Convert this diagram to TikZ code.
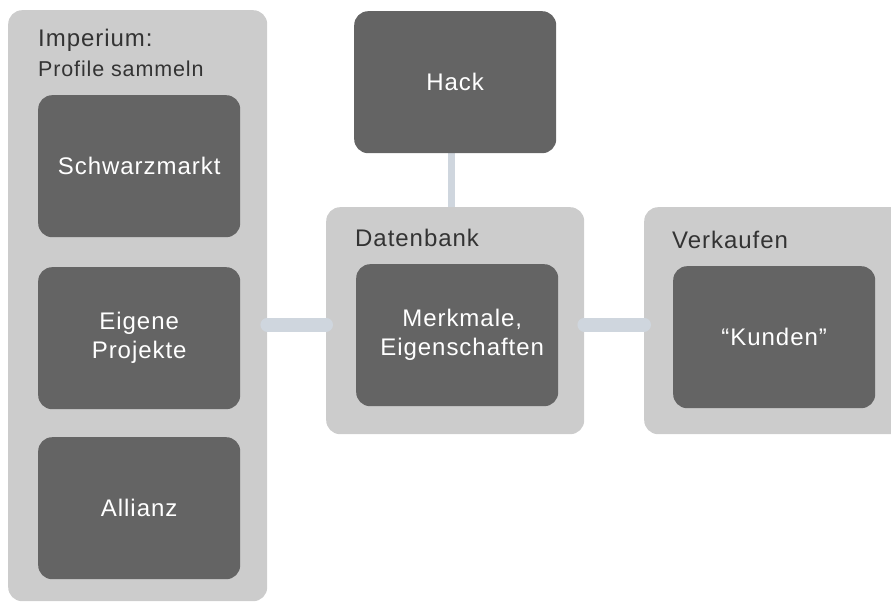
\documentclass[tikz,border=0pt]{standalone}
\usepackage{fontspec}
\setmainfont{Liberation Sans}[LetterSpace=4]
\definecolor{panelgray}{HTML}{CCCCCC}
\definecolor{boxgray}{HTML}{646464}
\definecolor{conncol}{HTML}{CFD6DE}
\definecolor{titlecol}{HTML}{333333}
\begin{document}
\begin{tikzpicture}[x=1pt,y=-1pt,
  panel/.style={fill=panelgray, draw=none, rounded corners=14pt, inner sep=0pt, anchor=north west},
  darkbox/.style={fill=boxgray, draw=none, rounded corners=14pt, inner sep=0pt, anchor=north west,
    minimum width=202pt, minimum height=142pt},
  boxtext/.style={text=white, font=\fontsize{24}{29}\selectfont, align=center},
  title/.style={text=titlecol, font=\fontsize{24}{28}\selectfont, anchor=base west, inner sep=0pt},
  subtitle/.style={text=titlecol, font=\fontsize{21.5}{26}\selectfont, anchor=base west, inner sep=0pt},
  conn/.style={draw=conncol, line width=14pt, line cap=round},
  vconn/.style={draw=conncol, line width=7pt}]
\useasboundingbox (0,0) rectangle (891,602);
% panels
\node[panel, minimum width=259pt, minimum height=591pt] (imp) at (8,10) {};
\node[panel, minimum width=258pt, minimum height=227pt] (db) at (326,207) {};
\node[panel, minimum width=262pt, minimum height=227pt] (vk) at (644,207) {};
% vertical connector
\draw[vconn] (451,153) coordinate (hb) -- (451,207) coordinate (dt);
% dark boxes
\node[darkbox] (hack) at (354,11) {};
\node[boxtext] at (hack.center) {Hack};
\node[darkbox] (sm) at (38,95) {};
\node[boxtext] at (sm.center) {Schwarzmarkt};
\node[darkbox] (ep) at (38,267) {};
\node[boxtext] at (ep.center) {Eigene\\Projekte};
\node[darkbox] (al) at (38,437) {};
\node[boxtext] at (al.center) {Allianz};
\node[darkbox] (mk) at (356,264) {};
\node[boxtext] at ([xshift=5pt]mk.center) {Merkmale,\\Eigenschaften};
\node[darkbox] (ku) at (673,266) {};
\node[boxtext] at (ku.center) {“Kunden”};
% titles
\node[title] (t1) at (38,47) {Imperium:};
\node[subtitle] (t2) at (38,76) {Profile sammeln};
\node[title] (t3) at (355,246) {Datenbank};
\node[title] (t4) at (672,248) {Verkaufen};
% horizontal connectors
\draw[conn] (imp.east |- 0,324.5) -- (db.west |- 0,324.5);
\draw[conn] (db.east |- 0,324.5) -- (vk.west |- 0,324.5);
\end{tikzpicture}
\end{document}
